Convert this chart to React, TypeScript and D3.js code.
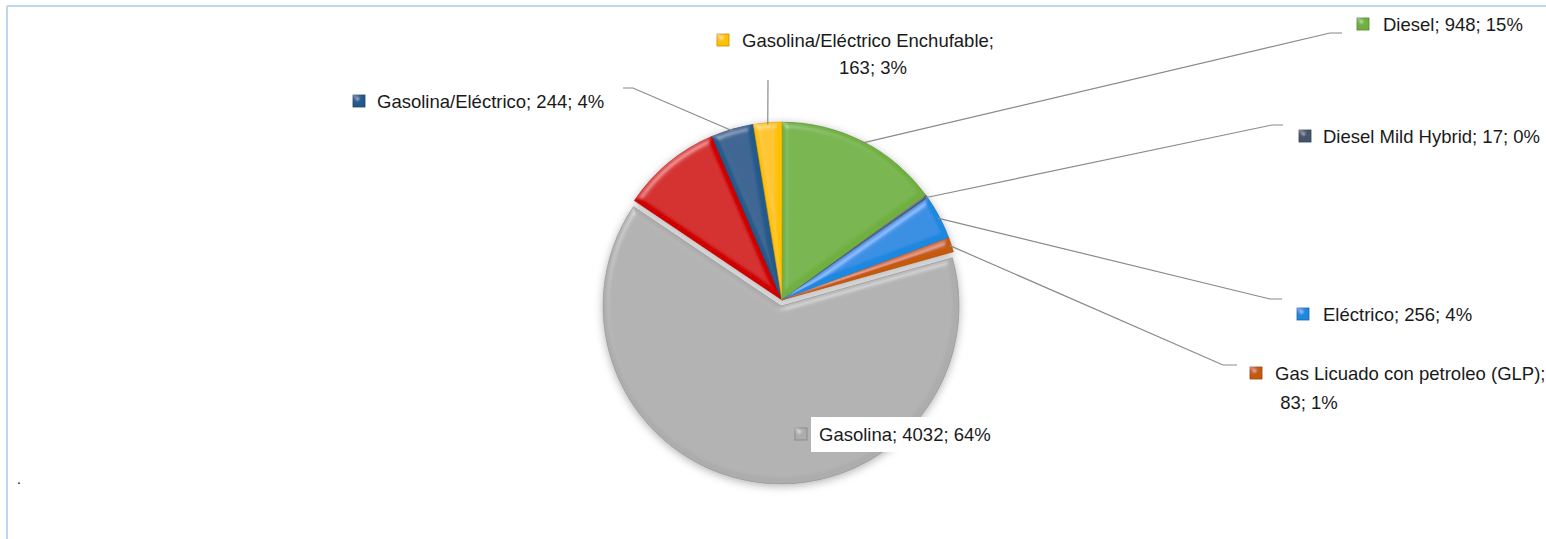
// Pie of vehicle registrations by fuel type — Excel-style bevelled pie with
// elbow leader lines and "name; value; pct%" labels.
import * as d3 from "d3";

const CATEGORIES = [
  "Diesel",
  "Diesel Mild Hybrid",
  "Eléctrico",
  "Gas Licuado con petroleo (GLP)",
  "Gasolina",
  "Gasolina Mild Hybrid",
  "Gasolina/Eléctrico",
  "Gasolina/Eléctrico Enchufable",
];
const VALUES = [948, 17, 256, 83, 4032, 577, 244, 163];
const COLORS = ["#70b03f", "#44546a", "#1a88e0", "#c55a11", "#adadad", "#d00000", "#245a8c", "#ffc000"];

// label layout (pixel placement, not data). null = no label shown.
type Lay = {
  elbow?: [number, number];
  end?: [number, number];
  mx: number; // marker x
  tx: number; // text x
  cy: number; // text centre y
  wrap?: { cx: number; cy: number };
  box?: boolean;
};
const LAYOUT: (Lay | null)[] = [
  { elbow: [1330, 33], end: [1342, 33], mx: 1357, tx: 1383, cy: 24 },
  { elbow: [1272, 125], end: [1283, 125], mx: 1299, tx: 1323, cy: 136 },
  { elbow: [1270, 299], end: [1282, 299], mx: 1297, tx: 1323, cy: 314 },
  { elbow: [1223, 365], end: [1237, 365], mx: 1250, tx: 1275, cy: 373, wrap: { cx: 1309, cy: 402 } },
  { mx: 795, tx: 819, cy: 434, box: true },
  null,
  { elbow: [633, 88], end: [623, 88], mx: 353, tx: 377, cy: 101 },
  { end: [768, 80], mx: 717, tx: 742, cy: 40, wrap: { cx: 873, cy: 67 } },
];

const W = 1546;
const H = 539;
const CX = 782;
const CY = 300;
const R = 178;
const EXPLODE = 6;
const FONT = "'Liberation Sans', Arial, sans-serif";
const FS = 18.5;

export default function App() {
  const total = d3.sum(VALUES);
  const rows = CATEGORIES.map((name, i) => ({ name, value: VALUES[i], color: COLORS[i], i }));
  const arcs = d3
    .pie<(typeof rows)[number]>()
    .sort(null)
    .value((d) => d.value)(rows);
  const arc = d3.arc<d3.PieArcDatum<(typeof rows)[number]>>().innerRadius(0).outerRadius(R);
  const pct = (v: number) => Math.round((v / total) * 100);

  const offset = (a: d3.PieArcDatum<unknown>, k: number): [number, number] => {
    const m = (a.startAngle + a.endAngle) / 2;
    return [Math.sin(m) * k, -Math.cos(m) * k];
  };

  return (
    <div style={{ position: "fixed", left: 0, top: 0, width: W, height: H, background: "#fff" }}>
      <svg width={W} height={H} viewBox={`0 0 ${W} ${H}`} style={{ display: "block" }}>
        <defs>
          <filter id="bevel" x="-20%" y="-20%" width="140%" height="140%">
            <feGaussianBlur in="SourceAlpha" stdDeviation="3" result="blur" />
            <feSpecularLighting
              in="blur"
              surfaceScale="4"
              specularConstant="0.6"
              specularExponent="20"
              lightingColor="#ffffff"
              result="spec"
            >
              <feDistantLight azimuth="235" elevation="40" />
            </feSpecularLighting>
            <feComposite in="spec" in2="SourceAlpha" operator="in" result="specIn" />
            <feComposite in="SourceGraphic" in2="specIn" operator="arithmetic" k1="0" k2="1" k3="0.4" k4="0" />
          </filter>
          <filter id="shadow" x="-20%" y="-20%" width="140%" height="140%">
            <feDropShadow dx="0" dy="2" stdDeviation="4" floodColor="#000" floodOpacity="0.3" />
          </filter>
        </defs>

        {/* frame */}
        <line x1={7} y1={6} x2={W} y2={6} stroke="#bdd7ee" strokeWidth={2} />
        <line x1={7} y1={6} x2={7} y2={H} stroke="#bdd7ee" strokeWidth={2} />

        {/* slices */}
        <g transform={`translate(${CX},${CY})`} filter="url(#shadow)">
          {arcs.map((a) => {
            const [dx, dy] = a.data.name === "Gasolina" ? offset(a, EXPLODE) : [0, 0];
            return (
              <path
                key={a.data.name}
                d={arc(a) ?? ""}
                transform={`translate(${dx},${dy})`}
                fill={a.data.color}
                stroke={d3.color(a.data.color)?.darker(0.6).formatHex()}
                strokeWidth={0.6}
                filter="url(#bevel)"
              />
            );
          })}
        </g>

        {/* leader lines */}
        <g fill="none" stroke="#8a8a8a" strokeWidth={1.2}>
          {arcs.map((a) => {
            const lay = LAYOUT[a.data.i];
            if (!lay || !lay.end) return null;
            const [sx, sy] = offset(a, R - 2);
            const pts: [number, number][] = [[CX + sx, CY + sy]];
            if (lay.elbow) pts.push(lay.elbow);
            pts.push(lay.end);
            return <path key={a.data.name} d={d3.line()(pts) ?? ""} />;
          })}
        </g>

        {/* labels */}
        <g fontFamily={FONT} fontSize={FS} fill="#1a1a1a">
          {arcs.map((a) => {
            const lay = LAYOUT[a.data.i];
            if (!lay) return null;
            const d = a.data;
            const full = `${d.name}; ${d.value}; ${pct(d.value)}%`;
            const line1 = lay.wrap ? `${d.name};` : full;
            const line2 = `${d.value}; ${pct(d.value)}%`;
            const ms = 12;
            return (
              <g key={d.name}>
                {lay.box && (
                  <rect x={lay.tx - 8} y={lay.cy - 17} width={190} height={35} fill="#fff" />
                )}
                <rect
                  x={lay.mx}
                  y={lay.cy - ms / 2}
                  width={ms}
                  height={ms}
                  fill={d.color}
                  stroke={d3.color(d.color)?.darker(0.8).formatHex()}
                  strokeWidth={0.8}
                  filter="url(#bevel)"
                />
                <text x={lay.tx} y={lay.cy + 6.5}>
                  {line1}
                </text>
                {lay.wrap && (
                  <text x={lay.wrap.cx} y={lay.wrap.cy + 6.5} textAnchor="middle">
                    {line2}
                  </text>
                )}
              </g>
            );
          })}
        </g>

        <text x={17} y={484} fontFamily={FONT} fontSize={14} fill="#000">
          .
        </text>
      </svg>
    </div>
  );
}
